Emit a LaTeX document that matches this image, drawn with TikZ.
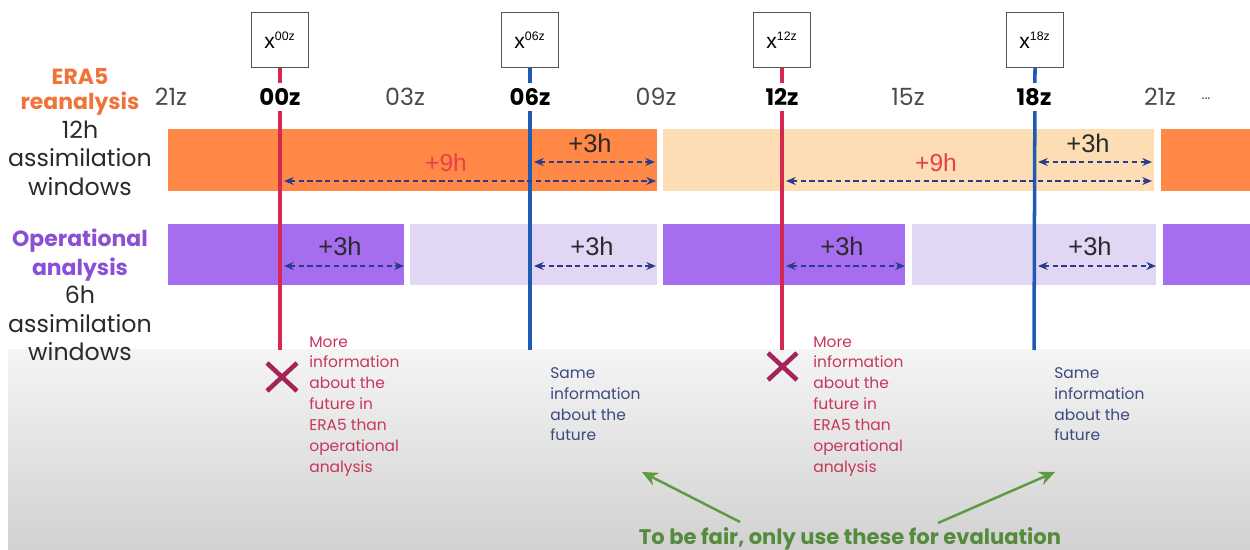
\documentclass[tikz,border=0pt]{standalone}
\usepackage{fontspec}
\setmainfont{Poppins}
\newfontfamily\arialfont{Liberation Sans}
\usetikzlibrary{arrows.meta}

\definecolor{eraorange}{HTML}{FF8847}
\definecolor{erapeach}{HTML}{FDDDB4}
\definecolor{oppurple}{HTML}{A66DF1}
\definecolor{oplavender}{HTML}{E2D6F5}
\definecolor{linered}{HTML}{D6284E}
\definecolor{lineblue}{HTML}{1F5BB5}
\definecolor{spannavy}{HTML}{2A3C8A}
\definecolor{eralabel}{HTML}{F0733A}
\definecolor{oplabel}{HTML}{8B4FD6}
\definecolor{ninered}{HTML}{E8404A}
\definecolor{notered}{HTML}{C8365A}
\definecolor{crossred}{HTML}{A4245A}
\definecolor{noteblue}{HTML}{3C4A7E}
\definecolor{fairgreen}{HTML}{5E9A44}
\definecolor{boxgray}{HTML}{555555}
\definecolor{textdark}{HTML}{2A2A2A}

\tikzset{
  timelbl/.style={font=\fontsize{13.5}{15}\selectfont, text=textdark!85, fill=white,
    inner sep=0pt, minimum height=16.4pt},
  majorlbl/.style={timelbl, font=\fontsize{13}{15}\selectfont\bfseries, text=black},
  xbox/.style={draw=boxgray, line width=0.7pt, fill=white, inner sep=0pt,
    minimum width=32.3pt, minimum height=31.2pt, font=\arialfont\fontsize{12}{14}\selectfont},
  vline/.style={line width=2pt},
  span/.style={draw=spannavy, line width=0.9pt, dash pattern=on 3pt off 2pt,
    {Stealth[length=5.5pt,width=4.5pt]}-{Stealth[length=5.5pt,width=4.5pt]}},
  hrs/.style={font=\arialfont\fontsize{14.5}{16}\selectfont, text=textdark},
  ninehrs/.style={font=\arialfont\fontsize{14}{16}\selectfont, text=ninered},
  sidelbl/.style={align=center, font=\fontsize{13.5}{16.2}\selectfont, text=textdark},
  rowtitle/.style={font=\fontsize{12.5}{15}\selectfont\bfseries},
  note/.style={align=left, anchor=north west, inner sep=0pt, font=\fontsize{8.8}{11.9}\selectfont},
  cross/.style={line width=2.6pt, draw=crossred},
  fairarrow/.style={draw=fairgreen, line width=1.4pt, -{Stealth[length=9pt,width=8pt]}},
}
\newcommand{\statesup}[1]{\textsuperscript{\fontsize{7}{8}\selectfont #1}}

\begin{document}
\begin{tikzpicture}[x=0.02cm, y=-0.02cm]
  \useasboundingbox (0,0) rectangle (1250,550);
  \clip (0,0) rectangle (1250,550);

  % shaded lower band
  \shade[top color=white!96!black, bottom color=white!82!black] (8,349) rectangle (1250,550);

  % ERA5: 12h assimilation windows
  \fill[eraorange] (168,129) rectangle (657,191);
  \fill[erapeach]  (663,129) rectangle (1154,191);
  \fill[eraorange] (1161,129) rectangle (1250,191);

  % operational analysis: 6h assimilation windows
  \fill[oppurple]   (168,224) rectangle (404,285);
  \fill[oplavender] (410,224) rectangle (657,285);
  \fill[oppurple]   (663,224) rectangle (905,285);
  \fill[oplavender] (912,224) rectangle (1156,285);
  \fill[oppurple]   (1163,224) rectangle (1250,285);

  % state boxes
  \node[xbox] (b00) at (280,40) {x\statesup{00z}};
  \node[xbox] (b06) at (530,40) {x\statesup{06z}};
  \node[xbox] (b12) at (782,40) {x\statesup{12z}};
  \node[xbox] (b18) at (1035,40) {x\statesup{18z}};

  % analysis time lines
  \coordinate (e00) at (280,350);
  \coordinate (e06) at (530,350);
  \coordinate (e12) at (782,350);
  \coordinate (e18) at (1034,350);
  \draw[vline, linered]  (b00.south) -- (e00);
  \draw[vline, lineblue] (b06.south) -- (e06);
  \draw[vline, linered]  (b12.south) -- (e12);
  \draw[vline, lineblue] (b18.south) -- (e18);

  % time axis
  \node[timelbl]  (t21a) at (171,97) {21z};
  \node[majorlbl] (t00)  at (280,97) {00z};
  \node[timelbl]  (t03)  at (405,97) {03z};
  \node[majorlbl] (t06)  at (530,97) {06z};
  \node[timelbl]  (t09)  at (656,97) {09z};
  \node[majorlbl] (t12)  at (782,97) {12z};
  \node[timelbl]  (t15)  at (908,97) {15z};
  \node[majorlbl] (t18)  at (1034,97) {18z};
  \node[timelbl]  (t21b) at (1160,97) {21z};
  \node[timelbl]  (more) at (1206,99) {\fontsize{8}{9}\selectfont ...};

  % row labels
  \node[sidelbl] (era) at (80,132)
    {\textcolor{eralabel}{\fontsize{12.5}{15}\selectfont\bfseries ERA5}\\[-2pt]\textcolor{eralabel}{\fontsize{12.5}{15}\selectfont\bfseries reanalysis}\\12h\\assimilation\\windows};
  \node[sidelbl] (ops) at (80,295)
    {\textcolor{oplabel}{\fontsize{12.5}{15}\selectfont\bfseries Operational}\\\textcolor{oplabel}{\fontsize{12.5}{15}\selectfont\bfseries analysis}\\6h\\assimilation\\windows};

  % lead-time spans in the ERA5 row
  \coordinate (a9s) at (284,181);  \coordinate (a9e) at (656,181);
  \coordinate (a3s) at (534,162);  \coordinate (a3e) at (655,162);
  \coordinate (c9s) at (786,181);  \coordinate (c9e) at (1152,181);
  \coordinate (c3s) at (1038,162); \coordinate (c3e) at (1152,162);
  \draw[span] (a9s) -- (a9e);
  \draw[span] (a3s) -- (a3e);
  \draw[span] (c9s) -- (c9e);
  \draw[span] (c3s) -- (c3e);
  \node[ninehrs] (n9a) at (446,163) {+9h};
  \node[hrs]     (n3a) at (590,143) {+3h};
  \node[ninehrs] (n9c) at (936,163) {+9h};
  \node[hrs]     (n3c) at (1088,143) {+3h};

  % lead-time spans in the operational row
  \coordinate (o1s) at (284,266);  \coordinate (o1e) at (404,266);
  \coordinate (o2s) at (534,266);  \coordinate (o2e) at (656,266);
  \coordinate (o3s) at (786,266);  \coordinate (o3e) at (905,266);
  \coordinate (o4s) at (1038,266); \coordinate (o4e) at (1156,266);
  \draw[span] (o1s) -- (o1e);
  \draw[span] (o2s) -- (o2e);
  \draw[span] (o3s) -- (o3e);
  \draw[span] (o4s) -- (o4e);
  \node[hrs] (p1) at (340,246) {+3h};
  \node[hrs] (p2) at (592,246) {+3h};
  \node[hrs] (p3) at (842,246) {+3h};
  \node[hrs] (p4) at (1090,246) {+3h};

  % crosses under the 00z and 12z lines
  \draw[cross] (267,363) -- (297,391) (267,391) -- (297,363);
  \draw[cross] (768,353) -- (797,380) (768,380) -- (797,353);

  % notes
  \node[note, text=notered] (m00) at (309,336)
    {More\\information\\about the\\future in\\ERA5 than\\operational\\analysis};
  \node[note, text=notered] (m12) at (813,336)
    {More\\information\\about the\\future in\\ERA5 than\\operational\\analysis};
  \node[note, text=noteblue] (s06) at (550,367)
    {Same\\information\\about the\\future};
  \node[note, text=noteblue] (s18) at (1054,367)
    {Same\\information\\about the\\future};

  % evaluation remark
  \node[font=\fontsize{12}{14}\selectfont\bfseries, text=fairgreen!90!black] (fair) at (850,539)
    {To be fair, only use these for evaluation};
  \coordinate (fl) at (740,522);
  \coordinate (fr) at (938,523);
  \coordinate (tl) at (642,472);
  \coordinate (tr) at (1055,472);
  \draw[fairarrow] (fl) -- (tl);
  \draw[fairarrow] (fr) -- (tr);
\end{tikzpicture}
\end{document}
